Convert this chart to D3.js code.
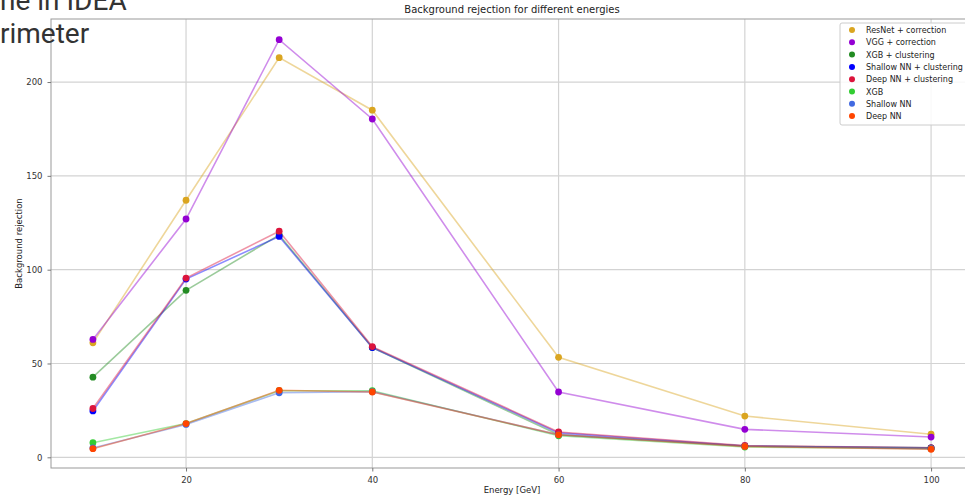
<!DOCTYPE html>
<html><head><meta charset="utf-8">
<script src="https://cdn.jsdelivr.net/npm/d3@7"></script>
<style>html,body{margin:0;padding:0;background:#fff;overflow:hidden}svg{display:block}</style>
</head><body><svg id="c" width="965" height="497"></svg>
<script>
const energies = [10, 20, 30, 40, 60, 80, 100];
const seriesNames = ["ResNet + correction","VGG + correction","XGB + clustering","Shallow NN + clustering","Deep NN + clustering","XGB","Shallow NN","Deep NN"];
const seriesColors = ["#DAA520","#9400D3","#228B22","#0000FF","#DC143C","#32CD32","#4169E1","#FF4500"];
const resnetCorr   = [61, 137, 213, 185, 53.3, 22, 12.3];
const vggCorr      = [62.8, 127, 222.6, 180.3, 34.8, 14.9, 10.8];
const xgbClust     = [42.7, 89, 118.5, 58.5, 12, 6, 5];
const shallowClust = [24.7, 95, 117.7, 58.5, 13, 6, 5];
const deepClust    = [26, 95.5, 120.5, 59, 13.5, 6.3, 5];
const xgb          = [7.8, 18, 35.5, 35.5, 11.5, 5.5, 4.6];
const shallowNN    = [5, 17.5, 34.4, 35, 12, 6, 4.6];
const deepNN       = [4.6, 18, 35.7, 34.8, 12, 5.8, 4.3];
const allSeries = [resnetCorr, vggCorr, xgbClust, shallowClust, deepClust, xgb, shallowNN, deepNN];
const xTicks = [20, 40, 60, 80, 100];
const yTicks = [0, 50, 100, 150, 200];
const titleText = "Background rejection for different energies";
const xLabel = "Energy [GeV]";
const yLabel = "Background rejection";
const overlayLines = ["ne in IDEA", "rimeter"];

const svg = d3.select("#c");
const L = 51, R = 973, T = 19, B = 468;
const x = d3.scaleLinear().domain([5.5, 104.5]).range([L, R]);
const y = d3.scaleLinear().domain([-5.7, 233.6]).range([B, T]);
const font = "DejaVu Sans, sans-serif";

// grid
const g = svg.append("g");
g.selectAll(".gx").data(xTicks).join("line")
  .attr("x1", d => x(d)).attr("x2", d => x(d)).attr("y1", T).attr("y2", B)
  .attr("stroke", "#d3d3d3").attr("stroke-width", 1.2);
g.selectAll(".gy").data(yTicks).join("line")
  .attr("y1", d => y(d)).attr("y2", d => y(d)).attr("x1", L).attr("x2", R)
  .attr("stroke", "#d3d3d3").attr("stroke-width", 1.2);

// frame
svg.append("rect").attr("x", L).attr("y", T).attr("width", R - L).attr("height", B - T)
  .attr("fill", "none").attr("stroke", "#999").attr("stroke-width", 1);

// axes
const xAxis = svg.append("g").attr("transform", `translate(0,${B})`)
  .call(d3.axisBottom(x).tickValues(xTicks).tickSize(3.5).tickPadding(5).tickFormat(d3.format("d")));
const yAxis = svg.append("g").attr("transform", `translate(${L},0)`)
  .call(d3.axisLeft(y).tickValues(yTicks).tickSize(3.5).tickPadding(5).tickFormat(d3.format("d")));
[xAxis, yAxis].forEach(a => {
  a.select(".domain").remove();
  a.selectAll("line").attr("stroke", "#777");
  a.selectAll("text").attr("fill", "#333").style("font-family", font).style("font-size", "8.5px");
});

// lines
const line = d3.line().x((d, i) => x(energies[i])).y(d => y(d));
allSeries.forEach((s, k) => {
  svg.append("path").datum(s).attr("d", line).attr("fill", "none")
    .attr("stroke", seriesColors[k]).attr("stroke-opacity", 0.45).attr("stroke-width", 1.6);
});
// points
allSeries.forEach((s, k) => {
  svg.append("g").selectAll("circle").data(s).join("circle")
    .attr("cx", (d, i) => x(energies[i])).attr("cy", d => y(d)).attr("r", 3.4)
    .attr("fill", seriesColors[k]);
});

// title & labels
svg.append("text").attr("x", (L + R) / 2).attr("y", 13).attr("text-anchor", "middle")
  .style("font-family", font).style("font-size", "10px").attr("fill", "#222").text(titleText);
svg.append("text").attr("x", (L + R) / 2).attr("y", 493).attr("text-anchor", "middle")
  .style("font-family", font).style("font-size", "8.5px").attr("fill", "#222").text(xLabel);
svg.append("text").attr("transform", `translate(22,${(T + B) / 2}) rotate(-90)`).attr("text-anchor", "middle")
  .style("font-family", font).style("font-size", "8.5px").attr("fill", "#222").text(yLabel);

// legend
const lg = svg.append("g");
lg.append("rect").attr("x", 840).attr("y", 23).attr("width", 140).attr("height", 102).attr("rx", 2)
  .attr("fill", "#fff").attr("fill-opacity", 0.85).attr("stroke", "#ccc");
seriesNames.forEach((n, k) => {
  const yy = 30 + k * 12.3;
  lg.append("circle").attr("cx", 852).attr("cy", yy).attr("r", 3).attr("fill", seriesColors[k]);
  lg.append("text").attr("x", 866).attr("y", yy + 3).style("font-family", font).style("font-size", "8px")
    .attr("fill", "#222").text(n);
});

// overlay text from slide
overlayLines.forEach((t, i) => {
  svg.append("text").attr("x", 0).attr("y", 10 + i * 33).style("font-family", "Roboto, sans-serif")
    .style("font-size", "28px").attr("fill", "#333").text(t);
});
</script></body></html>
